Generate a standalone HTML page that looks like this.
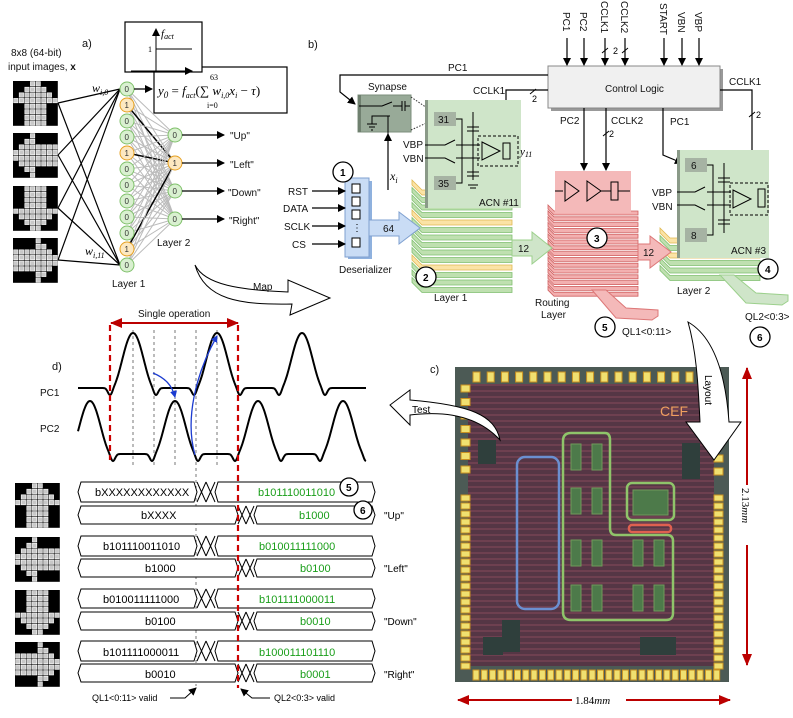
<!DOCTYPE html>
<html><head><meta charset="utf-8">
<style>
html,body{margin:0;padding:0;background:#fff;}
svg{display:block;font-family:"Liberation Sans",sans-serif;}
.t{font-size:11px;fill:#111;}
.s{font-size:10px;fill:#111;}
.g{fill:#1a9e1a;font-size:11px;}
.m{font-family:"Liberation Serif",serif;font-style:italic;}
</style></head>
<body>
<svg id="S" width="793" height="718" viewBox="0 0 793 718" xmlns="http://www.w3.org/2000/svg">
<defs>
<marker id="ah" markerWidth="8" markerHeight="8" refX="7" refY="4" orient="auto" markerUnits="userSpaceOnUse"><path d="M0,0 L8,4 L0,8 z" fill="#000"/></marker>
<marker id="ar" markerWidth="12" markerHeight="10" refX="11" refY="5" orient="auto" markerUnits="userSpaceOnUse"><path d="M0,0 L12,5 L0,10 z" fill="#b00"/></marker>
<marker id="ab" markerWidth="7" markerHeight="7" refX="6" refY="3.5" orient="auto" markerUnits="userSpaceOnUse"><path d="M0,0 L7,3.5 L0,7 z" fill="#1b3bd0"/></marker>
<pattern id="chipP" width="6" height="6" patternUnits="userSpaceOnUse"><rect width="6" height="6" fill="#553645"/><rect y="0" width="6" height="2" fill="#6e4050"/></pattern>
</defs>
<g id="G"></g>

<!-- Panel a -->
<text x="82" y="47" class="t" font-size="13">a)</text>
<text x="11" y="56" class="s">8x8 (64-bit)</text>
<text x="8" y="70" class="s">input images, <tspan font-weight="bold">x</tspan></text>
<rect x="154" y="67" width="133" height="46" fill="#fff" stroke="#000" stroke-width="1.2"/>
<rect x="125" y="22" width="77" height="50" fill="#fff" stroke="#000" stroke-width="1.2"/>
<line x1="156" y1="72" x2="156" y2="29" stroke="#000" marker-end="url(#ah)"/>
<line x1="131" y1="71" x2="192" y2="71" stroke="#000" marker-end="url(#ah)"/>
<line x1="156" y1="49" x2="192" y2="49" stroke="#000"/>
<text x="148" y="52" font-size="8" font-family="Liberation Serif">1</text>
<text x="161" y="37" class="m" font-size="11">f<tspan font-size="8" dy="2">act</tspan></text>
<text x="158" y="95" class="m" font-size="13">y<tspan font-size="9" dy="3">0</tspan><tspan dy="-3" font-style="normal"> = </tspan>f<tspan font-size="8" dy="3">act</tspan><tspan dy="-3" font-style="normal">(∑ </tspan>w<tspan font-size="8" dy="3">i,0</tspan><tspan dy="-3">x</tspan><tspan font-size="8" dy="3">i</tspan><tspan dy="-3" font-style="normal"> − </tspan>τ<tspan font-style="normal">)</tspan></text>
<text x="210" y="80" font-size="8" font-family="Liberation Serif">63</text>
<text x="207" y="108" font-size="8" font-family="Liberation Serif">i=0</text>
<text x="92" y="92" class="m" font-size="12">w<tspan font-size="8" dy="3">i,0</tspan></text>
<text x="85" y="255" class="m" font-size="12">w<tspan font-size="8" dy="3">i,11</tspan></text>
<text x="112" y="287" class="s" font-size="11">Layer 1</text>
<text x="157" y="246" class="s" font-size="11">Layer 2</text>
<line x1="134" y1="89" x2="152" y2="89" stroke="#000" stroke-width="1.3" marker-end="url(#ah)"/>
<text x="230" y="139" class="s" font-size="11">"Up"</text>
<text x="230" y="168" class="s" font-size="11">"Left"</text>
<text x="228" y="196" class="s" font-size="11">"Down"</text>
<text x="229" y="224" class="s" font-size="11">"Right"</text>
<path d="M195,265 C205,285 240,290 288,292 L288,280 L330,298 L290,315 L292,304 C240,305 205,300 195,265 Z" fill="#fff" stroke="#000"/>
<text x="253" y="290" class="s">Map</text>

<!-- Panel b -->
<text x="308" y="48" class="t" font-size="13">b)</text>
<rect x="551" y="69" width="172" height="42" fill="#999"/>
<rect x="548" y="66" width="172" height="42" fill="#f0f0f0" stroke="#888"/>
<text x="605" y="92" class="s">Control Logic</text>
<g font-size="10" fill="#111">
<text transform="translate(563,12) rotate(90)">PC1</text>
<text transform="translate(580,12) rotate(90)">PC2</text>
<text transform="translate(601,1) rotate(90)">CCLK1</text>
<text transform="translate(621,1) rotate(90)">CCLK2</text>
<text transform="translate(660,3) rotate(90)">START</text>
<text transform="translate(678,12) rotate(90)">VBN</text>
<text transform="translate(695,12) rotate(90)">VBP</text>
</g>
<g stroke="#000" stroke-width="1.2" marker-end="url(#ah)">
<line x1="567" y1="38" x2="567" y2="65"/><line x1="584" y1="38" x2="584" y2="65"/>
<line x1="605" y1="38" x2="605" y2="65"/><line x1="625" y1="38" x2="625" y2="65"/>
<line x1="664" y1="38" x2="664" y2="65"/><line x1="682" y1="38" x2="682" y2="65"/>
<line x1="699" y1="38" x2="699" y2="65"/>
</g>
<path d="M602,53 l6,-5 M622,53 l6,-5" stroke="#000"/>
<text x="613" y="54" font-size="9">2</text>
<text x="448" y="71" class="s">PC1</text>
<polyline points="548,75 340,75 340,92 355,104" fill="none" stroke="#000" stroke-width="1.2" marker-end="url(#ah)"/>
<polyline points="548,90 506,90 506,130" fill="none" stroke="#000" stroke-width="1.2" marker-end="url(#ah)"/>
<path d="M530,94 l6,-5" stroke="#000"/><text x="532" y="102" font-size="9">2</text>
<text x="473" y="94" class="s">CCLK1</text>
<text x="729" y="85" class="s">CCLK1</text>
<polyline points="720,90 752,90 752,177" fill="none" stroke="#000" stroke-width="1.2" marker-end="url(#ah)"/>
<path d="M749,117 l6,-5" stroke="#000"/><text x="756" y="118" font-size="9">2</text>
<line x1="584" y1="108" x2="584" y2="170" stroke="#000" stroke-width="1.2" marker-end="url(#ah)"/>
<line x1="606" y1="108" x2="606" y2="170" stroke="#000" stroke-width="1.2" marker-end="url(#ah)"/>
<path d="M603,136 l6,-5" stroke="#000"/><text x="609" y="137" font-size="9">2</text>
<text x="560" y="124" class="s">PC2</text>
<text x="611" y="124" class="s">CCLK2</text>
<text x="670" y="125" class="s">PC1</text>
<polyline points="663,108 663,155 682,163" fill="none" stroke="#000" stroke-width="1.2" marker-end="url(#ah)"/>

<g id="STK"></g>
<rect x="358" y="95" width="53" height="37" fill="#98aa98" stroke="#7d8f7d"/>
<rect x="358" y="95" width="3" height="37" fill="#6f806f"/>
<text x="368" y="90" class="s">Synapse</text>
<path d="M359,106 L382,106 L392,102 M393,106 L402,106 M402,101 v10 M405,101 v10 M405,106 h5 M390,116 L372,116 v8 M367,124 h10 M369,127 h6 M371,130 h2 M388,116 V145" stroke="#000" fill="none"/>
<line x1="388" y1="190" x2="388" y2="134" stroke="#000" stroke-width="1.2" marker-end="url(#ah)"/>
<text x="390" y="180" class="m" font-size="12">x<tspan font-size="8" dy="3">i</tspan></text>
<path d="M411,97 L433,112 M411,130 L433,120" stroke="#333" stroke-dasharray="1.5,1.5"/>
<rect x="425" y="100" width="96" height="108" fill="#cfe5c9"/>
<rect x="425" y="100" width="3" height="108" fill="#8a9a88"/>
<rect x="434" y="112" width="22" height="14" fill="#a6b3a3"/><text x="438" y="123" class="s">31</text>
<rect x="434" y="176" width="22" height="14" fill="#a6b3a3"/><text x="438" y="187" class="s">35</text>
<path d="M456,119 h6 v64 h-6 M425,145 h20 l10,-5 M456,145 h24 M425,158 h20 l10,5 M456,158 h24 M473,112 v68 M467,127 h12 M467,131 h12 M467,172 h12 M467,176 h12 M468,185 h10 M470,188 h6" stroke="#000" fill="none"/>
<rect x="478" y="136" width="40" height="30" fill="none" stroke="#000" stroke-dasharray="3,2"/>
<path d="M482,142 L500,151 L482,160 Z M503,143 h7 v16 h-7 Z" fill="#cfe5c9" stroke="#000"/>
<text x="520" y="155" class="m" font-size="11">y<tspan font-size="8" dy="2">11</tspan></text>
<text x="403" y="148" class="s">VBP</text><text x="403" y="162" class="s">VBN</text>
<text x="479" y="206" class="s">ACN #11</text>
<rect x="555" y="171" width="76" height="42" fill="#f4b9b9"/>
<path d="M555,191 h8 M565,181 L579,191 L565,201 Z M587,181 L601,191 L587,201 Z M601,191 h10 M611,182 h7 v18 h-7 Z M618,191 h12" stroke="#000" fill="#f4b9b9"/>
<rect x="677" y="150" width="92" height="108" fill="#cfe5c9"/>
<rect x="677" y="150" width="3" height="108" fill="#8a9a88"/>
<rect x="685" y="158" width="22" height="14" fill="#a6b3a3"/><text x="691" y="169" class="s">6</text>
<rect x="685" y="228" width="22" height="14" fill="#a6b3a3"/><text x="691" y="239" class="s">8</text>
<path d="M707,165 h6 v70 h-6 M677,192 h18 l10,-5 M707,192 h24 M677,205 h18 l10,5 M707,205 h24 M724,163 v70 M718,178 h12 M718,182 h12 M718,220 h12 M718,224 h12" stroke="#000" fill="none"/>
<rect x="730" y="183" width="38" height="32" fill="none" stroke="#000" stroke-dasharray="3,2"/>
<path d="M733,190 L751,199 L733,208 Z M758,189 h7 v18 h-7 Z" fill="#cfe5c9" stroke="#000"/>
<text x="652" y="196" class="s">VBP</text><text x="652" y="210" class="s">VBN</text>
<text x="731" y="254" class="s">ACN #3</text>
<rect x="348" y="181" width="24" height="78" fill="#8fb1de"/>
<rect x="345" y="178" width="24" height="79" fill="#c9dcf5" stroke="#7fa0d0"/>
<g fill="#fff" stroke="#000"><rect x="352" y="184" width="8" height="9"/><rect x="352" y="197" width="8" height="9"/><rect x="352" y="210" width="8" height="9"/><rect x="352" y="238" width="8" height="9"/></g>
<text x="352" y="231" font-size="10">⋮</text>
<path d="M369,220 h30 v-8 l21,16 l-21,16 v-8 h-30 z" fill="#c9dcf5" stroke="#7fa0d0"/>
<text x="383" y="232" class="s">64</text>
<text x="339" y="273" class="s">Deserializer</text>
<g stroke="#000" stroke-width="1.2" marker-end="url(#ah)">
<line x1="312" y1="191" x2="345" y2="191"/><line x1="312" y1="208" x2="345" y2="208"/>
<line x1="312" y1="226" x2="345" y2="226"/><line x1="312" y1="244" x2="345" y2="244"/>
</g>
<text x="288" y="195" class="s">RST</text><text x="283" y="212" class="s">DATA</text>
<text x="284" y="230" class="s">SCLK</text><text x="292" y="248" class="s">CS</text>
<path d="M512,240 h20 v-8 l20,16 l-20,16 v-8 h-20 z" fill="#cfe5c9" stroke="#9cd08c"/>
<text x="518" y="252" class="s">12</text>
<path d="M638,244 h12 v-8 l21,16 l-21,16 v-8 h-12 z" fill="#f4b9b9" stroke="#d77"/>
<text x="643" y="256" class="s">12</text>
<path d="M592,290 l14,0 l20,18 l32,2 l0,6 l-6,4 l-36,-2 z" fill="#f4b9b9" stroke="#d77"/>
<path d="M720,275 l14,0 l22,18 l32,2 l0,6 l-6,4 l-36,-2 z" fill="#cfe5c9" stroke="#9cd08c"/>
<text x="434" y="301" class="s">Layer 1</text>
<text x="535" y="306" class="s">Routing</text><text x="541" y="318" class="s">Layer</text>
<text x="677" y="294" class="s">Layer 2</text>
<text x="622" y="335" class="s">QL1&lt;0:11&gt;</text>
<text x="745" y="320" class="s">QL2&lt;0:3&gt;</text>
<g id="CIR" font-size="10" font-weight="bold"></g>

<!-- Panel c chip -->
<text x="430" y="373" class="t" font-size="12">c)</text>
<rect x="455" y="367" width="274" height="315" fill="#4c5a55"/>
<rect x="468" y="384" width="246" height="282" fill="url(#chipP)"/>
<g id="PADS"></g>
<rect x="478" y="440" width="18" height="24" fill="#2f3f3c"/>
<rect x="502" y="620" width="18" height="32" fill="#2f3f3c"/>
<rect x="483" y="637" width="20" height="18" fill="#2f3f3c"/>
<rect x="640" y="637" width="36" height="18" fill="#2f3f3c"/>
<rect x="682" y="443" width="18" height="36" fill="#2f3f3c"/>
<text x="660" y="416" font-size="14" fill="#f0a060">CEF</text>
<rect x="517" y="457" width="42" height="152" rx="8" fill="none" stroke="#6b8fd0" stroke-width="2.5"/>
<path d="M571,433 H605 Q610,433 610,440 V528 Q610,535 616,535 H667 Q673,535 673,541 V613 Q673,620 666,620 H571 Q563,620 563,612 V441 Q563,433 571,433 Z" fill="none" stroke="#8fc46a" stroke-width="2.5"/>
<rect x="627" y="483" width="47" height="37" rx="5" fill="none" stroke="#8fc46a" stroke-width="2.5"/>
<rect x="629" y="525" width="42" height="7" rx="3" fill="none" stroke="#e06050" stroke-width="2.5"/>
<g id="CELLS" fill="#4d7a4a" stroke="#6e9a5a"></g>
<path d="M688,322 C716,338 726,380 729,422 L741,422 L714,460 L686,422 L700,422 C698,380 696,350 688,322 Z" fill="#fff" stroke="#000"/>
<text transform="translate(705,375) rotate(90)" font-size="10">Layout</text>
<path d="M500,440 C495,415 470,405 410,400 L410,390 L390,405 L410,425 L410,415 C450,410 480,418 500,440 Z" fill="#fff" stroke="#000"/>
<text x="412" y="413" font-size="10">Test</text>
<line x1="747" y1="380" x2="747" y2="665" stroke="#b00" stroke-width="2" marker-end="url(#ar)"/>
<line x1="747" y1="665" x2="747" y2="368" stroke="#b00" stroke-width="2" marker-end="url(#ar)"/>
<rect x="740" y="485" width="14" height="60" fill="#fff"/>
<text transform="translate(742,488) rotate(90)" font-size="11" font-family="Liberation Serif">2.13<tspan font-style="italic">mm</tspan></text>
<line x1="470" y1="700" x2="730" y2="700" stroke="#b00" stroke-width="2" marker-end="url(#ar)"/>
<line x1="730" y1="700" x2="458" y2="700" stroke="#b00" stroke-width="2" marker-end="url(#ar)"/>
<rect x="572" y="693" width="54" height="14" fill="#fff"/>
<text x="575" y="704" font-size="11" font-family="Liberation Serif">1.84<tspan font-style="italic">mm</tspan></text>

<!-- Panel d -->
<text x="52" y="370" class="t" font-size="12">d)</text>
<text x="40" y="396" class="s">PC1</text>
<text x="40" y="432" class="s">PC2</text>
<text x="138" y="317" class="s">Single operation</text>
<line x1="125" y1="323" x2="238" y2="323" stroke="#b00" stroke-width="2" marker-end="url(#ar)"/>
<line x1="225" y1="323" x2="111" y2="323" stroke="#b00" stroke-width="2" marker-end="url(#ar)"/>
<g stroke="#777" stroke-dasharray="3,3">
<line x1="133" y1="330" x2="133" y2="465"/><line x1="154" y1="330" x2="154" y2="465"/>
<line x1="175" y1="330" x2="175" y2="465"/><line x1="196" y1="330" x2="196" y2="686"/>
<line x1="217" y1="330" x2="217" y2="465"/>
</g>
<path id="pc1" fill="none" stroke="#000" stroke-width="2"/>
<path id="pc2" fill="none" stroke="#000" stroke-width="2"/>
<path d="M153,373 C165,378 172,385 175,397" fill="none" stroke="#1b3bd0" stroke-width="1.3" marker-end="url(#ab)"/>
<path d="M195,455 C185,420 195,375 217,336" fill="none" stroke="#1b3bd0" stroke-width="1.3" marker-end="url(#ab)"/>
<g id="BUS" stroke="#000" fill="#fff"></g>
<g id="CIR2" font-size="10" font-weight="bold"></g>
<line x1="110" y1="325" x2="110" y2="460" stroke="#c00" stroke-width="2.2" stroke-dasharray="6,4"/>
<line x1="238" y1="325" x2="238" y2="688" stroke="#c00" stroke-width="2.2" stroke-dasharray="6,4"/>
<g font-size="11">
<text x="95" y="496">bXXXXXXXXXXXX</text><text x="258" y="496" class="g">b101110011010</text>
<text x="141" y="519">bXXXX</text><text x="299" y="519" class="g">b1000</text>
<text x="103" y="550">b101110011010</text><text x="259" y="550" class="g">b010011111000</text>
<text x="145" y="572">b1000</text><text x="300" y="572" class="g">b0100</text>
<text x="103" y="603">b010011111000</text><text x="259" y="603" class="g">b101111000011</text>
<text x="145" y="625">b0100</text><text x="300" y="625" class="g">b0010</text>
<text x="103" y="656">b101111000011</text><text x="259" y="656" class="g">b100011101110</text>
<text x="145" y="678">b0010</text><text x="300" y="678" class="g">b0001</text>
</g>
<g font-size="10">
<text x="384" y="519">"Up"</text><text x="384" y="572">"Left"</text>
<text x="384" y="625">"Down"</text><text x="384" y="678">"Right"</text>
</g>
<text x="92" y="701" font-size="9">QL1&lt;0:11&gt; valid</text>
<text x="274" y="701" font-size="9">QL2&lt;0:3&gt; valid</text>
<polyline points="170,698 185,698 196,688" fill="none" stroke="#000" marker-end="url(#ah)"/>
<polyline points="270,698 252,698 241,689" fill="none" stroke="#000" marker-end="url(#ah)"/>
</svg>
<script>
var NS="http://www.w3.org/2000/svg";
function el(p,t,a){var e=document.createElementNS(NS,t);for(var k in a)e.setAttribute(k,a[k]);p.appendChild(e);return e;}
var G=document.getElementById('G');
var up=["00011000","00111100","01111110","11111111","00111100","00111100","00111100","00111100"];
function rot(m,k){var r=m;for(var n=0;n<k;n++){var q=[];for(var i=0;i<8;i++){var s="";for(var j=0;j<8;j++)s+=r[7-j][i];q.push(s);}r=q;}return r;}
var pats=[up,rot(up,3),rot(up,2),rot(up,1)];
function img(x,y,p,c){el(G,'rect',{x:x,y:y,width:8*c,height:8*c,fill:'#000'});for(var i=0;i<8;i++)for(var j=0;j<8;j++)if(p[i][j]=='1')el(G,'rect',{x:x+j*c+0.6,y:y+i*c+0.6,width:c-1.2,height:c-1.2,fill:'#c8c8c8',stroke:'#fff','stroke-width':0.6});}
var iy=[81,133,186,238];
for(var k=0;k<4;k++)img(13,iy[k],pats[k],5.6);
var by=[483,537,590,642];
for(var k=0;k<4;k++)img(15,by[k],pats[k],5.6);
var l1=[],l2=[135,163,191,219];
for(var i=0;i<12;i++)l1.push(89+i*16);
for(var k=0;k<4;k++){el(G,'line',{x1:58,y1:iy[k]+22,x2:120,y2:89,stroke:'#000','stroke-width':1.2});el(G,'line',{x1:58,y1:iy[k]+22,x2:120,y2:265,stroke:'#000','stroke-width':1.2});}
var act1=[1,4,10];
for(var i=0;i<12;i++)for(var j=0;j<4;j++){var a=act1.indexOf(i)>=0&&j==1;el(G,'line',{x1:127,y1:l1[i],x2:175,y2:l2[j],stroke:a?'#000':'#bbb','stroke-width':a?1.5:1});}
for(var i=0;i<12;i++){var o=act1.indexOf(i)>=0;el(G,'circle',{cx:127,cy:l1[i],r:7,fill:o?'#fde8c0':'#d9f0d0',stroke:o?'#e6a020':'#7fc06a'});var t=el(G,'text',{x:124.5,y:l1[i]+3,'font-size':8,fill:'#333'});t.textContent=o?'1':'0';}
for(var j=0;j<4;j++){var o=j==1;el(G,'circle',{cx:175,cy:l2[j],r:7,fill:o?'#fde8c0':'#d9f0d0',stroke:o?'#e6a020':'#7fc06a'});var t=el(G,'text',{x:172.5,y:l2[j]+3,'font-size':8,fill:'#333'});t.textContent=o?'1':'0';el(G,'line',{x1:182,y1:l2[j],x2:224,y2:l2[j],stroke:'#000','stroke-width':1.3,'marker-end':'url(#ah)'});}
var STK=document.getElementById('STK');
function stack(x,y,w,n,dy,f1,s1,yel){for(var i=n-1;i>=0;i--){var yy=y+i*dy;var y2=yel.indexOf(i)>=0;el(STK,'path',{d:'M'+x+','+yy+' l10,10 h'+w+' v5 h-'+w+' l-10,-10 z',fill:y2?'#fbe3a6':f1,stroke:y2?'#e0b850':s1,'stroke-width':0.8});}}
stack(412,180,90,14,7.5,'#bfe0b0','#7fbf6f',[0,4,10]);
stack(660,228,90,6,7.5,'#bfe0b0','#7fbf6f',[0,2]);
(function(){for(var i=14;i>=0;i--){var yy=205+i*5.8;el(STK,'path',{d:'M548,'+yy+' l6,6 h84 v4 h-84 l-6,-6 z',fill:'#f3b0b0',stroke:'#d06060','stroke-width':0.8});}})();
function circ(g,x,y,n,r){var C=document.getElementById(g);el(C,'circle',{cx:x,cy:y,r:r||10,fill:'#fff',stroke:'#000','stroke-width':1.3});var t=el(C,'text',{x:x-3,y:y+4});t.textContent=n;}
circ('CIR',343,172,'1');circ('CIR',426,277,'2');circ('CIR',597,238,'3');circ('CIR',768,269,'4');circ('CIR',605,327,'5');circ('CIR',760,337,'6');
circ('CIR',511,475,'1');circ('CIR',565,434,'2');circ('CIR',679,525,'3');circ('CIR',672,480,'4');
circ('CIR2',349,487,'5',9);circ('CIR2',363,510,'6',9);
var P=document.getElementById('PADS');
function pad(x,y,w,h){el(P,'rect',{x:x,y:y,width:w,height:h,fill:'#f0e070',stroke:'#c89020'});}
for(var x=473;x<700;x+=14.2)pad(x,372,7,10);
for(var x=473;x<715;x+=8.3)pad(x,670,6,10);
for(var y=385;y<470;y+=13.5)pad(461,y,9,7);
for(var y=495;y<665;y+=8)pad(461,y,9,6);
for(var y=455;y<480;y+=13)pad(714,y,9,7);
for(var y=495;y<665;y+=8)pad(714,y,9,6);
var CL=document.getElementById('CELLS');
[[571,444],[592,444],[571,488],[592,488],[571,540],[592,540],[571,585],[592,585],[633,540],[654,540],[633,585],[654,585]].forEach(function(p){el(CL,'rect',{x:p[0],y:p[1],width:10,height:26});});
el(CL,'rect',{x:633,y:490,width:35,height:25});
function wave(peaks,base,A,x0,x1){var d='';for(var x=x0;x<=x1;x+=0.5){var y=base;peaks.forEach(function(c){var u=(x-c)/22;if(Math.abs(u)<1)y-=A*(0.5+0.5*Math.cos(Math.PI*u));var v1=(x-(c-23))/3,v2=(x-(c+23))/3;y+=7*Math.exp(-v1*v1)+7*Math.exp(-v2*v2);});d+=(d?'L':'M')+x.toFixed(1)+','+y.toFixed(1);}return d;}
document.getElementById('pc1').setAttribute('d',wave([133,217,302],388,55,78,366));
document.getElementById('pc2').setAttribute('d',wave([90,175,258,343],454,53,78,366));
var B=document.getElementById('BUS');
function seg(x1,x2,t,b){var c=(t+b)/2;el(B,'polygon',{points:x1+','+c+' '+(x1+3)+','+t+' '+(x2-3)+','+t+' '+x2+','+c+' '+(x2-3)+','+b+' '+(x1+3)+','+b});}
function xs(x1,x2,t,b){el(B,'path',{d:'M'+x1+','+t+' L'+x2+','+b+' M'+x1+','+b+' L'+x2+','+t,fill:'none'});}
var rows=[[482,502,506,524],[536,556,559,577],[589,608,612,630],[641,661,664,682]];
rows.forEach(function(r){seg(78,197,r[0],r[1]);xs(197,206,r[0],r[1]);xs(206,215,r[0],r[1]);seg(215,375,r[0],r[1]);seg(78,238,r[2],r[3]);xs(238,246,r[2],r[3]);xs(246,254,r[2],r[3]);seg(254,375,r[2],r[3]);});
</script>
</body></html>
